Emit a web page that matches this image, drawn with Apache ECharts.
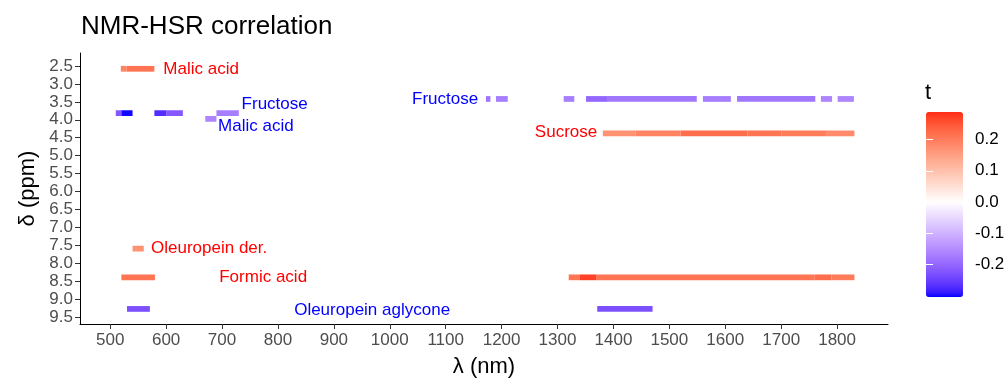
<!DOCTYPE html>
<html><head><meta charset="utf-8">
<script src="https://cdn.jsdelivr.net/npm/echarts@6/dist/echarts.min.js"></script>
<style>html,body{margin:0;padding:0;background:#fff}#c{width:1008px;height:378px}</style>
</head><body><div id="c"></div>
<script>
// ---- data ----
const segLambdaFrom = [519, 529, 510, 520, 579, 600, 690, 670, 540, 520, 530,
  1172, 1190, 1311, 1351, 1390, 1560, 1621, 1771, 1801,
  1381, 1440, 1520, 1640, 1700, 1780,
  1320, 1340, 1370, 1760, 1790,
  1371];
const segLambdaTo = [529, 579, 520, 540, 600, 630, 730, 690, 560, 580, 571,
  1180, 1211, 1330, 1390, 1549, 1610, 1761, 1791, 1830,
  1440, 1520, 1640, 1700, 1780, 1831,
  1340, 1370, 1760, 1790, 1831,
  1470];
const segPpm = [2.58, 2.58, 3.815, 3.815, 3.815, 3.815, 3.815, 3.975, 7.59, 8.39, 9.27,
  3.42, 3.42, 3.42, 3.42, 3.42, 3.42, 3.42, 3.42, 3.42,
  4.38, 4.38, 4.38, 4.38, 4.38, 4.38,
  8.39, 8.39, 8.39, 8.39, 8.39,
  9.27];
const segT = [0.19, 0.21, -0.22, -0.30, -0.27, -0.22, -0.17, -0.16, 0.17, 0.21, -0.23,
  -0.18, -0.17, -0.17, -0.20, -0.18, -0.17, -0.18, -0.16, -0.16,
  0.17, 0.19, 0.22, 0.21, 0.20, 0.18,
  0.21, 0.27, 0.21, 0.22, 0.20,
  -0.23];

const annoText = ['Malic acid', 'Fructose', 'Malic acid', 'Fructose', 'Sucrose', 'Oleuropein der.', 'Formic acid', 'Oleuropein aglycone'];
const annoLambda = [595, 735, 693, 1158, 1371, 573, 695, 829];
const annoPpm = [2.59, 3.58, 4.18, 3.43, 4.34, 7.58, 8.39, 9.30];
const annoSign = [1, -1, -1, -1, 1, 1, 1, -1];

const xTicks = [500, 600, 700, 800, 900, 1000, 1100, 1200, 1300, 1400, 1500, 1600, 1700, 1800];
const yTicks = [2.5, 3.0, 3.5, 4.0, 4.5, 5.0, 5.5, 6.0, 6.5, 7.0, 7.5, 8.0, 8.5, 9.0, 9.5];
const legendTicks = [-0.2, -0.1, 0.0, 0.1, 0.2];

// ---- styles / helpers ----
const FONT = '"Liberation Sans", Arial, Helvetica, sans-serif';
const TILE_H = 0.16;
const T_MIN = -0.304, T_MAX = 0.288, T_ABS = 0.304;
const LAB_WHITE = [100, 0, 0], LAB_RED = [53.24, 80.09, 67.20], LAB_BLUE = [32.30, 79.19, -107.86];
function labToHex(L, a, b) {
  const fy = (L + 16) / 116, fx = fy + a / 500, fz = fy - b / 200;
  const f = v => (v ** 3 > 0.008856 ? v ** 3 : (v - 16 / 116) / 7.787);
  const X = 0.95047 * f(fx), Y = 1.0 * f(fy), Z = 1.08883 * f(fz);
  let r = 3.2406 * X - 1.5372 * Y - 0.4986 * Z;
  let g = -0.9689 * X + 1.8758 * Y + 0.0415 * Z;
  let bb = 0.0557 * X - 0.2040 * Y + 1.0570 * Z;
  const gam = v => { v = Math.min(1, Math.max(0, v)); return v <= 0.0031308 ? 12.92 * v : 1.055 * Math.pow(v, 1 / 2.4) - 0.055; };
  const h = v => Math.round(gam(v) * 255).toString(16).padStart(2, '0');
  return '#' + h(r) + h(g) + h(bb);
}
function colorFor(t) {
  const end = t >= 0 ? LAB_RED : LAB_BLUE;
  const k = Math.min(1, Math.abs(t) / T_ABS);
  return labToHex(LAB_WHITE[0] + (end[0] - LAB_WHITE[0]) * k, LAB_WHITE[1] + (end[1] - LAB_WHITE[1]) * k, LAB_WHITE[2] + (end[2] - LAB_WHITE[2]) * k);
}
const stops = [];
for (let i = 0; i < 61; i++) stops.push(colorFor(T_MIN + (T_MAX - T_MIN) * i / 60));

const segData = segLambdaFrom.map((v, i) => [v, segLambdaTo[i], segPpm[i], segT[i]]);
const annoData = annoText.map((s, i) => [annoLambda[i], annoPpm[i]]);

const chart = echarts.init(document.getElementById('c'));
chart.setOption({
  animation: false,
  backgroundColor: '#ffffff',
  textStyle: { fontFamily: FONT },
  title: {
    text: 'NMR-HSR correlation', left: 76, top: 9,
    textStyle: { fontFamily: FONT, fontSize: 26, fontWeight: 'normal', color: '#000' }
  },
  graphic: [{ type: 'text', left: 925, top: 82, style: { text: 't', font: '22px ' + FONT, fill: '#000' } }],
  grid: [
    { left: 80, right: 120, top: 53, bottom: 54, containLabel: false, outerBoundsMode: 'none' },
    { left: 926, top: 112, width: 37, height: 185, show: false, containLabel: false, outerBoundsMode: 'none' }
  ],
  xAxis: [{
    type: 'value', min: 446, max: 1891, gridIndex: 0,
    name: 'λ (nm)', nameLocation: 'middle', nameGap: 32,
    nameTextStyle: { fontFamily: FONT, fontSize: 22, color: '#000' },
    axisLine: { lineStyle: { color: '#000', width: 1 } },
    axisTick: { length: 5, lineStyle: { color: '#333' }, customValues: xTicks },
    axisLabel: { customValues: xTicks, color: '#4D4D4D', fontSize: 17, margin: 8, fontFamily: FONT, formatter: v => String(v) },
    splitLine: { show: false }
  }, {
    type: 'value', gridIndex: 1, show: false, min: 0, max: 1
  }],
  yAxis: [{
    type: 'value', min: 2.14, max: 9.69, inverse: true, gridIndex: 0,
    name: 'δ (ppm)', nameLocation: 'middle', nameGap: 39, nameRotate: 90,
    nameTextStyle: { fontFamily: FONT, fontSize: 22, color: '#000' },
    axisLine: { show: true, lineStyle: { color: '#000', width: 1 } },
    axisTick: { show: true, length: 5, lineStyle: { color: '#333' }, customValues: yTicks },
    axisLabel: { customValues: yTicks, color: '#4D4D4D', fontSize: 17, margin: 7, fontFamily: FONT, formatter: v => v.toFixed(1) },
    splitLine: { show: false }
  }, {
    type: 'value', gridIndex: 1, min: T_MIN, max: T_MAX, position: 'right', z: 10,
    axisLine: { show: false },
    axisTick: { show: true, inside: true, length: 7, lineStyle: { color: '#fff', width: 1 }, customValues: legendTicks },
    axisLabel: { customValues: legendTicks, color: '#000', fontSize: 17, margin: 12, fontFamily: FONT, formatter: v => v.toFixed(1) },
    splitLine: { show: false }
  }, {
    type: 'value', gridIndex: 1, min: T_MIN, max: T_MAX, position: 'left', z: 10,
    axisLine: { show: false },
    axisTick: { show: true, inside: true, length: 7, lineStyle: { color: '#fff', width: 1 }, customValues: legendTicks },
    axisLabel: { show: false },
    splitLine: { show: false }
  }],
  visualMap: {
    type: 'continuous', min: T_MIN, max: T_MAX, dimension: 3, seriesIndex: 0,
    left: 926, top: 112, itemWidth: 37, itemHeight: 185, padding: 0,
    calculable: false, hoverLink: false, text: null,
    inRange: { color: stops }
  },
  series: [{
    type: 'custom', xAxisIndex: 0, yAxisIndex: 0,
    data: segData,
    encode: { x: [0, 1], y: 2 },
    renderItem: function (params, api) {
      const x0 = api.value(0), x1 = api.value(1), y = api.value(2);
      const a = api.coord([x0, y - TILE_H / 2]), b = api.coord([x1, y + TILE_H / 2]);
      return {
        type: 'rect',
        shape: { x: Math.min(a[0], b[0]), y: Math.min(a[1], b[1]), width: Math.abs(b[0] - a[0]), height: Math.abs(b[1] - a[1]) },
        style: { fill: api.visual('color') }
      };
    }
  }, {
    type: 'custom', xAxisIndex: 0, yAxisIndex: 0,
    data: annoData,
    encode: { x: 0, y: 1 },
    renderItem: function (params, api) {
      const i = params.dataIndex;
      const p = api.coord([api.value(0), api.value(1)]);
      const rightAligned = annoText[i] === 'Sucrose' || (annoText[i] === 'Fructose' && annoLambda[i] > 1000);
      return {
        type: 'text', x: p[0], y: p[1],
        style: {
          text: annoText[i], fill: annoSign[i] > 0 ? '#FF0000' : '#0000FF',
          font: '17px ' + FONT, align: rightAligned ? 'right' : 'left', verticalAlign: 'middle'
        }
      };
    }
  }]
});
</script>
</body></html>
